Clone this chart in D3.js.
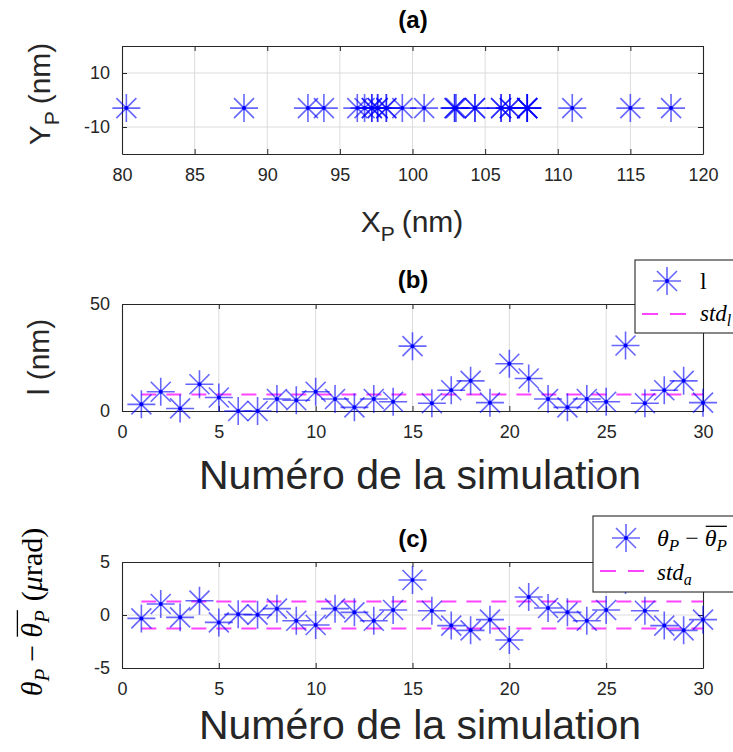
<!DOCTYPE html>
<html>
<head>
<meta charset="utf-8">
<script src="https://cdn.jsdelivr.net/npm/d3@7"></script>
<style>
  body { margin: 0; background: #fff; }
  text { font-family: "Liberation Sans", Arial, sans-serif; fill: #262626; }
  .math { font-family: "Liberation Serif", "DejaVu Serif", serif; fill: #000; }
</style>
</head>
<body>
<div id="chart"></div>
<script>
// panel (a): positions of the particle
const xP = [80.3, 88.4, 92.8, 93.9, 96.2, 96.7, 97.2, 97.6, 98.2, 99.3,
            100.8, 102.9, 104.3, 106.1, 106.7, 107.9, 111.0, 115.0, 117.8, 107.9,
            107.9, 106.1, 102.9, 97.2, 98.2, 104.3, 97.6, 107.9, 106.7, 103.0]
const yP = [-3, -3, -3, -3, -3, -3, -3, -3, -3, -3,
            -3, -3, -3, -3, -3, -3, -3, -3, -3, -3,
            -3, -3, -3, -3, -3, -3, -3, -3, -3, -3]

// panels (b) and (c): per simulation
const simulations = d3.range(1, 31)
const lValues = [3.1, 9.0, 1.2, 12.5, 6.3, 0.0, 0.0, 5.6, 5.0, 9.0,
                 5.6, 1.7, 5.6, 4.3, 30.3, 3.6, 9.7, 14.1, 3.9, 22.1,
                 15.2, 5.6, 1.7, 5.6, 4.3, 30.6, 3.6, 9.7, 14.1, 3.9]
const stdL = 7.7
const thetaDev = [-0.32, 1.04, -0.22, 1.35, -0.70, 0.06, 0.03, 0.60, -0.54, -0.94,
                  0.60, 0.25, -0.54, 0.47, 3.3, 0.40, -1.0, -1.45, -0.44, -2.36,
                  1.70, 0.66, 0.25, -0.54, 0.47, 3.3, 0.40, -1.0, -1.45, -0.44]
const stdA = 1.28

const xTicksA = [80, 85, 90, 95, 100, 105, 110, 115, 120]
const yTicksA = [-10, 10]
const xTicksSim = [0, 5, 10, 15, 20, 25, 30]
const yTicksB = [0, 50]
const yTicksC = [-5, 0, 5]

const W = 733, H = 752
const svg = d3.select('#chart').append('svg').attr('width', W).attr('height', H)

const BLUE = '#0000ff'
const MAGENTA = '#ff44ff'
const AX = '#262626'
const fmt = d => String(d)   // plain hyphen for negatives, like the original

function star(g, cx, cy) {
    g.append('path')
	.attr('d', 'M-14,0H14M0,-14V14M-10,-10L10,10M-10,10L10,-10')
	.attr('transform', `translate(${cx},${cy})`)
	.attr('fill', 'none').attr('stroke', BLUE)
	.attr('stroke-opacity', 0.6).attr('stroke-width', 1.6)
    g.append('circle').attr('cx', cx).attr('cy', cy).attr('r', 2).attr('fill', BLUE)
}

// text built of pieces (for subscripts and overlines)
function richText(parent, x, y, pieces, rotate) {
    const g = parent.append('g')
	.attr('transform', `translate(${x},${y})` + (rotate ? ` rotate(${rotate})` : ''))
    let cx = 0
    const boxes = []
    pieces.forEach(p => {
	const t = g.append('text')
	    .attr('x', cx).attr('y', p.dy || 0)
	    .attr('class', p.math ? 'math' : null)
	    .style('font-size', p.size + 'px')
	    .style('font-style', p.italic ? 'italic' : 'normal')
	    .text(p.t)
	const w = t.node().getComputedTextLength()
	boxes.push({x0: cx, x1: cx + w, p: p})
	cx += w + (p.gap || 0)
    })
    // overlines
    const groups = d3.group(boxes.filter(b => b.p.over), b => b.p.over)
    groups.forEach(bs => {
	const x0 = d3.min(bs, b => b.x0) + 1, x1 = d3.max(bs, b => b.x1)
	const yy = -bs[0].p.size * 0.82
	g.append('line').attr('x1', x0).attr('x2', x1).attr('y1', yy).attr('y2', yy)
	    .attr('stroke', '#000').attr('stroke-width', 1.3)
    })
    return {g: g, width: cx}
}

function centered(parent, cx, y, pieces, rotate) {
    const r = richText(parent, 0, 0, pieces, null)
    const w = r.width
    r.g.remove()
    if (rotate) return richText(parent, cx, y + w / 2, pieces, rotate)
    return richText(parent, cx - w / 2, y, pieces, null)
}

function title(txt, y) {
    svg.append('text').attr('x', 413).attr('y', y).attr('text-anchor', 'middle')
	.style('font-size', '24px').style('font-weight', 'bold').style('fill', '#000').text(txt)
}

function panel(box, xDomain, yDomain, xTicks, yTicks, hGrid) {
    const x = d3.scaleLinear().domain(xDomain).range([box.left, box.right])
    const y = d3.scaleLinear().domain(yDomain).range([box.bottom, box.top])
    const g = svg.append('g')
    // grid
    g.append('g').selectAll('line').data(xTicks.slice(1, -1)).join('line')
	.attr('x1', d => x(d)).attr('x2', d => x(d))
	.attr('y1', box.top).attr('y2', box.bottom)
	.attr('stroke', '#dcdcdc').attr('stroke-width', 1)
    g.append('g').selectAll('line').data(hGrid).join('line')
	.attr('y1', d => y(d)).attr('y2', d => y(d))
	.attr('x1', box.left).attr('x2', box.right)
	.attr('stroke', '#dcdcdc').attr('stroke-width', 1)
    // axes with inward ticks, box on
    const bottom = g.append('g').attr('transform', `translate(0,${box.bottom})`)
	.call(d3.axisBottom(x).tickValues(xTicks).tickFormat(fmt).tickSizeInner(-5).tickSizeOuter(0).tickPadding(14))
    const top = g.append('g').attr('transform', `translate(0,${box.top})`)
	.call(d3.axisTop(x).tickValues(xTicks).tickSizeInner(-5).tickSizeOuter(0).tickFormat(''))
    const left = g.append('g').attr('transform', `translate(${box.left},0)`)
	.call(d3.axisLeft(y).tickValues(yTicks).tickFormat(fmt).tickSizeInner(-5).tickSizeOuter(0).tickPadding(12))
    const right = g.append('g').attr('transform', `translate(${box.right},0)`)
	.call(d3.axisRight(y).tickValues(yTicks).tickSizeInner(-5).tickSizeOuter(0).tickFormat(''))
    ;[bottom, top, left, right].forEach(a => {
	a.select('.domain').attr('stroke', AX).attr('stroke-width', 1.1)
	a.selectAll('.tick line').attr('stroke', AX)
	a.selectAll('.tick text').style('font-size', '18px').attr('fill', AX)
	    .style('font-family', '"Liberation Sans", Arial, sans-serif')
    })
    return {x: x, y: y, g: g}
}

// ---------- (a)
const boxA = {left: 122, right: 703, top: 46, bottom: 154}
const pa = panel(boxA, [80, 120], [-20, 20], xTicksA, yTicksA, yTicksA)
xP.forEach((v, i) => star(pa.g, pa.x(v), pa.y(yP[i])))
title('(a)', 28)
centered(svg, 412, 232, [
    {t: 'X', size: 30}, {t: 'P', size: 21, dy: 9, gap: 7}, {t: '(nm)', size: 30}])
centered(svg, 50, 94, [
    {t: 'Y', size: 30}, {t: 'P', size: 21, dy: 9, gap: 7}, {t: '(nm)', size: 30}], -90)

// ---------- (b)
const boxB = {left: 122, right: 703, top: 304, bottom: 411}
const pb = panel(boxB, [0, 30], [0, 50], xTicksSim, yTicksB, [])
pb.g.append('line')
    .attr('x1', pb.x(1)).attr('x2', pb.x(30)).attr('y1', pb.y(stdL)).attr('y2', pb.y(stdL))
    .attr('stroke', MAGENTA).attr('stroke-width', 2).attr('stroke-dasharray', '15,10')
simulations.forEach((s, i) => star(pb.g, pb.x(s), pb.y(lValues[i])))
title('(b)', 288)
svg.append('text').attr('x', 420).attr('y', 489).attr('text-anchor', 'middle')
    .style('font-size', '41px').text('Numéro de la simulation')
svg.append('text').attr('transform', 'translate(49,357) rotate(-90)').attr('text-anchor', 'middle')
    .style('font-size', '30px').text('l (nm)')

// legend (b)
const lgB = svg.append('g')
lgB.append('rect').attr('x', 635).attr('y', 260).attr('width', 120).attr('height', 73)
    .attr('fill', '#fff').attr('stroke', AX).attr('stroke-width', 1.1)
star(lgB, 667, 281)
lgB.append('text').attr('class', 'math').attr('x', 700).attr('y', 289).style('font-size', '24px').text('l')
lgB.append('line').attr('x1', 642).attr('x2', 688).attr('y1', 314).attr('y2', 314)
    .attr('stroke', MAGENTA).attr('stroke-width', 2).attr('stroke-dasharray', '16,12')
richText(lgB, 700, 321, [
    {t: 'std', size: 23, italic: true, math: true}, {t: 'l', size: 16, italic: true, math: true, dy: 5}])

// ---------- (c)
const boxC = {left: 122, right: 703, top: 562, bottom: 668}
const pc = panel(boxC, [0, 30], [-5, 5], xTicksSim, yTicksC, [0])
;[stdA, -stdA].forEach(v => {
    pc.g.append('line')
	.attr('x1', pc.x(1)).attr('x2', pc.x(30)).attr('y1', pc.y(v)).attr('y2', pc.y(v))
	.attr('stroke', MAGENTA).attr('stroke-width', 2).attr('stroke-dasharray', '15,10')
})
simulations.forEach((s, i) => star(pc.g, pc.x(s), pc.y(thetaDev[i])))
title('(c)', 547)
svg.append('text').attr('x', 420).attr('y', 739).attr('text-anchor', 'middle')
    .style('font-size', '41px').text('Numéro de la simulation')
centered(svg, 42, 612, [
    {t: 'θ', size: 30, italic: true, math: true}, {t: 'P', size: 21, italic: true, math: true, dy: 7, gap: 7},
    {t: '−', size: 30, math: true, gap: 7},
    {t: 'θ', size: 30, italic: true, math: true, over: 'o'}, {t: 'P', size: 21, italic: true, math: true, dy: 7, over: 'o', gap: 9},
    {t: '(', size: 30, math: true}, {t: 'μ', size: 30, italic: true, math: true}, {t: 'rad)', size: 30, math: true}], -90)

// legend (c)
const lgC = svg.append('g')
lgC.append('rect').attr('x', 593).attr('y', 516).attr('width', 160).attr('height', 76)
    .attr('fill', '#fff').attr('stroke', AX).attr('stroke-width', 1.1)
star(lgC, 626, 538)
richText(lgC, 657, 546, [
    {t: 'θ', size: 24, italic: true, math: true}, {t: 'P', size: 17, italic: true, math: true, dy: 5, gap: 6},
    {t: '−', size: 24, math: true, gap: 6},
    {t: 'θ', size: 24, italic: true, math: true, over: 'o'}, {t: 'P', size: 17, italic: true, math: true, dy: 5, over: 'o'}])
lgC.append('line').attr('x1', 600).attr('x2', 646).attr('y1', 571).attr('y2', 571)
    .attr('stroke', MAGENTA).attr('stroke-width', 2).attr('stroke-dasharray', '16,12')
richText(lgC, 657, 580, [
    {t: 'std', size: 23, italic: true, math: true}, {t: 'a', size: 16, italic: true, math: true, dy: 5}])
</script>
</body>
</html>
